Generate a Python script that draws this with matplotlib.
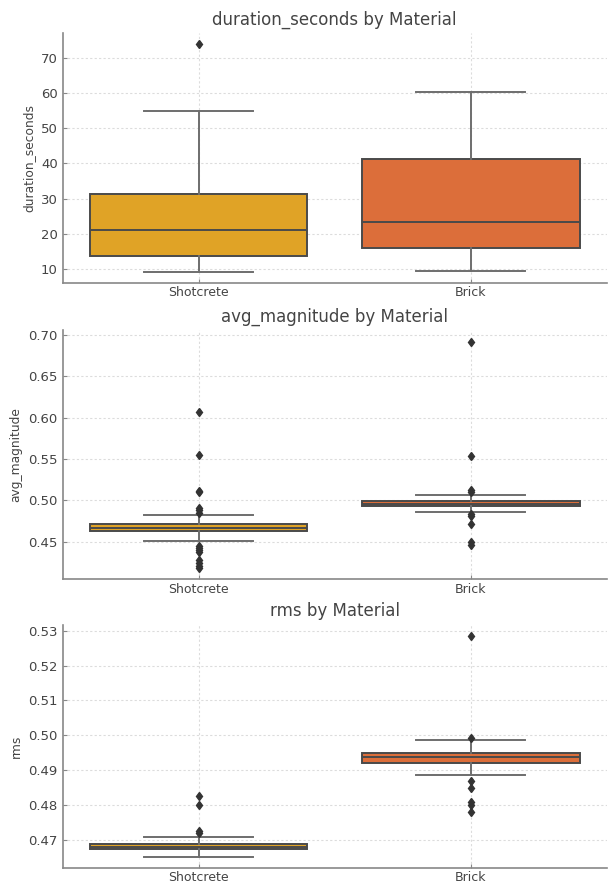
import matplotlib
matplotlib.use("Agg")
import matplotlib.pyplot as plt

materials = ["Shotcrete", "Brick"]
colors = ["#E0A326", "#DC6E3A"]

# box statistics: [whislo, q1, med, q3, whishi]
duration_stats = [[9.3, 13.7, 21.2, 31.3, 55.0], [9.4, 15.9, 23.4, 41.3, 60.4]]
duration_fliers = [[73.8], []]

magnitude_stats = [[0.4507, 0.4625, 0.4663, 0.4708, 0.4820], [0.4853, 0.4930, 0.4960, 0.4988, 0.5060]]
magnitude_fliers = [
    [0.607, 0.555, 0.5115, 0.5095, 0.491, 0.488, 0.485, 0.4445, 0.4420, 0.4395, 0.437, 0.4275, 0.4240, 0.4205, 0.4180],
    [0.692, 0.5535, 0.5125, 0.5100, 0.4835, 0.4810, 0.4710, 0.4490, 0.4455],
]

rms_stats = [[0.4653, 0.4674, 0.4682, 0.4690, 0.4708], [0.4886, 0.4922, 0.4937, 0.4951, 0.4987]]
rms_fliers = [
    [0.4828, 0.4801, 0.4727, 0.4722],
    [0.5285, 0.4992, 0.4869, 0.4850, 0.4810, 0.4801, 0.4780],
]

panels = [
    ("duration_seconds", duration_stats, duration_fliers, [10, 20, 30, 40, 50, 60, 70], ["10", "20", "30", "40", "50", "60", "70"]),
    ("avg_magnitude", magnitude_stats, magnitude_fliers, [0.45, 0.50, 0.55, 0.60, 0.65, 0.70], ["0.45", "0.50", "0.55", "0.60", "0.65", "0.70"]),
    ("rms", rms_stats, rms_fliers, [0.47, 0.48, 0.49, 0.50, 0.51, 0.52, 0.53], ["0.47", "0.48", "0.49", "0.50", "0.51", "0.52", "0.53"]),
]

text_color = "#444444"
fig = plt.figure(figsize=(6.08, 8.90), dpi=100)
rects = [
    [0.103, 0.682, 0.895, 0.281],
    [0.103, 0.349, 0.895, 0.280],
    [0.103, 0.025, 0.895, 0.273],
]

for rect, (name, stats, fliers, yt, ytl) in zip(rects, panels):
    ax = fig.add_axes(rect)
    bxp_stats = []
    for s, f, lab in zip(stats, fliers, materials):
        bxp_stats.append(dict(whislo=s[0], q1=s[1], med=s[2], q3=s[3], whishi=s[4], fliers=f, label=lab))
    bp = ax.bxp(bxp_stats, positions=[0, 1], widths=0.8, patch_artist=True,
                showfliers=True, manage_ticks=False,
                boxprops=dict(edgecolor="#4a4a4a", linewidth=1.4),
                medianprops=dict(color="#4a4a4a", linewidth=1.4),
                whiskerprops=dict(color="#6e6e6e", linewidth=1.4),
                capprops=dict(color="#6e6e6e", linewidth=1.4),
                capwidths=0.4,
                flierprops=dict(marker="d", markersize=4.5, markerfacecolor="#333333",
                                markeredgecolor="#333333", linestyle="none"))
    for patch, c in zip(bp["boxes"], colors):
        patch.set_facecolor(c)
    ax.set_xlim(-0.5, 1.5)
    ax.set_xticks([0, 1])
    ax.set_xticklabels(materials)
    ax.set_yticks(yt)
    ax.set_yticklabels(ytl)
    ax.set_title(f"{name} by Material", fontsize=12, color=text_color, pad=6)
    ax.set_ylabel(name, fontsize=8.8, color=text_color, labelpad=4)
    ax.set_xlabel("")
    ax.tick_params(axis="both", direction="in", length=3, width=0.8, colors="#888888",
                   labelcolor=text_color, labelsize=9.5)
    ax.tick_params(axis="x", labelsize=9, pad=2.5)
    for side in ["top", "right"]:
        ax.spines[side].set_visible(False)
    for side in ["left", "bottom"]:
        ax.spines[side].set_color("#888888")
        ax.spines[side].set_linewidth(1.2)
    ax.grid(True, linestyle=(0, (2, 2)), color="#dcdcdc", linewidth=0.8)
    ax.set_axisbelow(True)

fig.savefig("out.png", dpi=100)
